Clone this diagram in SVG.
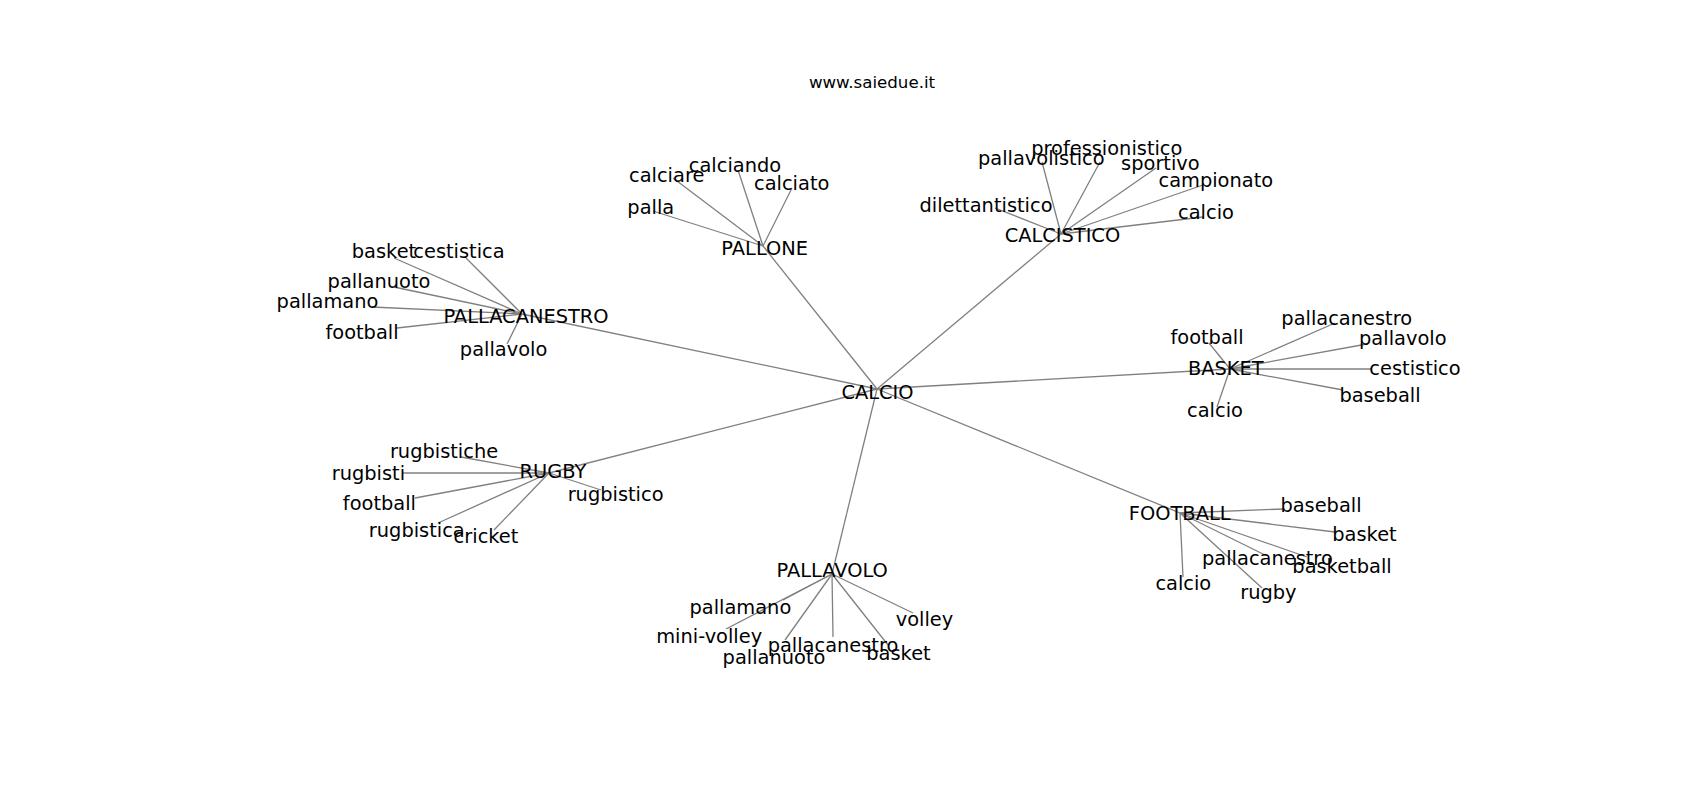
<svg xmlns="http://www.w3.org/2000/svg" width="1700" height="800" viewBox="0 0 1700 800">
<style>
.e{stroke:#808080;stroke-width:1.3;fill:none}
text{font-family:"DejaVu Sans","Liberation Sans",sans-serif;fill:#000;text-anchor:middle}
.n text{font-size:19.4px}
.t{font-size:16.67px}
</style>
<rect width="1700" height="800" fill="#fff"/>
<text class="t" x="872" y="87.5">www.saiedue.it</text>
<g id="edges" class="e">
<line x1="877" y1="389" x2="763" y2="246"/>
<line x1="877" y1="389" x2="1061" y2="234"/>
<line x1="877" y1="389" x2="522" y2="314"/>
<line x1="877" y1="389" x2="1230" y2="369"/>
<line x1="877" y1="389" x2="549" y2="473"/>
<line x1="877" y1="389" x2="832" y2="574"/>
<line x1="877" y1="389" x2="1180" y2="513"/>
<line x1="763" y1="246" x2="673" y2="178"/>
<line x1="763" y1="246" x2="738" y2="170"/>
<line x1="763" y1="246" x2="792" y2="188"/>
<line x1="763" y1="246" x2="653" y2="211"/>
<line x1="522" y1="314" x2="394" y2="258"/>
<line x1="522" y1="314" x2="466" y2="258"/>
<line x1="522" y1="314" x2="394" y2="287"/>
<line x1="522" y1="314" x2="372" y2="307"/>
<line x1="522" y1="314" x2="397" y2="328"/>
<line x1="522" y1="314" x2="507" y2="344"/>
<line x1="1061" y1="234" x2="995" y2="208"/>
<line x1="1061" y1="234" x2="1042" y2="162"/>
<line x1="1061" y1="234" x2="1100" y2="162"/>
<line x1="1061" y1="234" x2="1156" y2="168"/>
<line x1="1061" y1="234" x2="1203" y2="185"/>
<line x1="1061" y1="234" x2="1203" y2="217"/>
<line x1="1230" y1="369" x2="1209" y2="343"/>
<line x1="1230" y1="369" x2="1335" y2="323"/>
<line x1="1230" y1="369" x2="1367" y2="344"/>
<line x1="1230" y1="369" x2="1372" y2="369"/>
<line x1="1230" y1="369" x2="1343" y2="390"/>
<line x1="1230" y1="369" x2="1217" y2="407"/>
<line x1="549" y1="473" x2="461" y2="457"/>
<line x1="549" y1="473" x2="402" y2="473"/>
<line x1="549" y1="473" x2="415" y2="498"/>
<line x1="549" y1="473" x2="438" y2="523"/>
<line x1="549" y1="473" x2="494" y2="530"/>
<line x1="549" y1="473" x2="601" y2="490"/>
<line x1="832" y1="574" x2="783" y2="600"/>
<line x1="832" y1="574" x2="726" y2="629"/>
<line x1="832" y1="574" x2="833" y2="637"/>
<line x1="832" y1="574" x2="785" y2="640"/>
<line x1="832" y1="574" x2="888" y2="645"/>
<line x1="832" y1="574" x2="913" y2="613"/>
<line x1="1180" y1="513" x2="1283" y2="509"/>
<line x1="1180" y1="513" x2="1335" y2="532"/>
<line x1="1180" y1="513" x2="1265" y2="555"/>
<line x1="1180" y1="513" x2="1307" y2="557"/>
<line x1="1180" y1="513" x2="1183" y2="577"/>
<line x1="1180" y1="513" x2="1262" y2="588"/>
</g>
<g class="n">
<g id="CALCIO"><text x="877.5" y="399">CALCIO</text></g>
<g id="PALLONE"><text x="764.7" y="255">PALLONE</text></g>
<g id="CALCISTICO"><text x="1062.4" y="241.7">CALCISTICO</text></g>
<g id="PALLACANESTRO"><text x="526" y="322.7">PALLACANESTRO</text></g>
<g id="BASKET"><text x="1225.8" y="375">BASKET</text></g>
<g id="RUGBY"><text x="553" y="478.3">RUGBY</text></g>
<g id="PALLAVOLO"><text x="832.2" y="576.7">PALLAVOLO</text></g>
<g id="FOOTBALL"><text x="1179.7" y="520">FOOTBALL</text></g>
<g id="pallone-calciare"><text x="666.7" y="181.7">calciare</text></g>
<g id="pallone-calciando"><text x="735" y="171.7">calciando</text></g>
<g id="pallone-calciato"><text x="791.7" y="190">calciato</text></g>
<g id="pallone-palla"><text x="650.8" y="214">palla</text></g>
<g id="pallacanestro-basket"><text x="384" y="258.3">basket</text></g>
<g id="pallacanestro-cestistica"><text x="459" y="258.3">cestistica</text></g>
<g id="pallacanestro-pallanuoto"><text x="379" y="288.3">pallanuoto</text></g>
<g id="pallacanestro-pallamano"><text x="327.5" y="308.3">pallamano</text></g>
<g id="pallacanestro-football"><text x="362" y="338.5">football</text></g>
<g id="pallacanestro-pallavolo"><text x="503.6" y="355.6">pallavolo</text></g>
<g id="calcistico-dilettantistico"><text x="986" y="211.7">dilettantistico</text></g>
<g id="calcistico-pallavolistico"><text x="1041.3" y="164.5">pallavolistico</text></g>
<g id="calcistico-professionistico"><text x="1106.8" y="155">professionistico</text></g>
<g id="calcistico-sportivo"><text x="1160.4" y="170">sportivo</text></g>
<g id="calcistico-campionato"><text x="1215.8" y="186.7">campionato</text></g>
<g id="calcistico-calcio"><text x="1206" y="218.5">calcio</text></g>
<g id="basket-football"><text x="1207" y="344.3">football</text></g>
<g id="basket-pallacanestro"><text x="1346.7" y="325">pallacanestro</text></g>
<g id="basket-pallavolo"><text x="1402.8" y="345">pallavolo</text></g>
<g id="basket-cestistico"><text x="1415" y="375">cestistico</text></g>
<g id="basket-baseball"><text x="1380" y="402">baseball</text></g>
<g id="basket-calcio"><text x="1215" y="417.3">calcio</text></g>
<g id="rugby-rugbistiche"><text x="444" y="458.3">rugbistiche</text></g>
<g id="rugby-rugbisti"><text x="368.4" y="479.6">rugbisti</text></g>
<g id="rugby-football"><text x="379.4" y="510.2">football</text></g>
<g id="rugby-rugbistica"><text x="416.8" y="536.8">rugbistica</text></g>
<g id="rugby-cricket"><text x="486" y="543.3">cricket</text></g>
<g id="rugby-rugbistico"><text x="615.6" y="500.5">rugbistico</text></g>
<g id="pallavolo-pallamano"><text x="740.4" y="614">pallamano</text></g>
<g id="pallavolo-mini-volley"><text x="709.2" y="642.7">mini-volley</text></g>
<g id="pallavolo-pallacanestro"><text x="833" y="651.7">pallacanestro</text></g>
<g id="pallavolo-pallanuoto"><text x="774" y="663.5">pallanuoto</text></g>
<g id="pallavolo-basket"><text x="898.5" y="660">basket</text></g>
<g id="pallavolo-volley"><text x="924.5" y="625.5">volley</text></g>
<g id="football-baseball"><text x="1321" y="511.7">baseball</text></g>
<g id="football-basket"><text x="1364.5" y="541">basket</text></g>
<g id="football-pallacanestro"><text x="1267.4" y="565">pallacanestro</text></g>
<g id="football-basketball"><text x="1342" y="573.4">basketball</text></g>
<g id="football-calcio"><text x="1183.3" y="589.5">calcio</text></g>
<g id="football-rugby"><text x="1268.4" y="599">rugby</text></g>
</g>
</svg>
